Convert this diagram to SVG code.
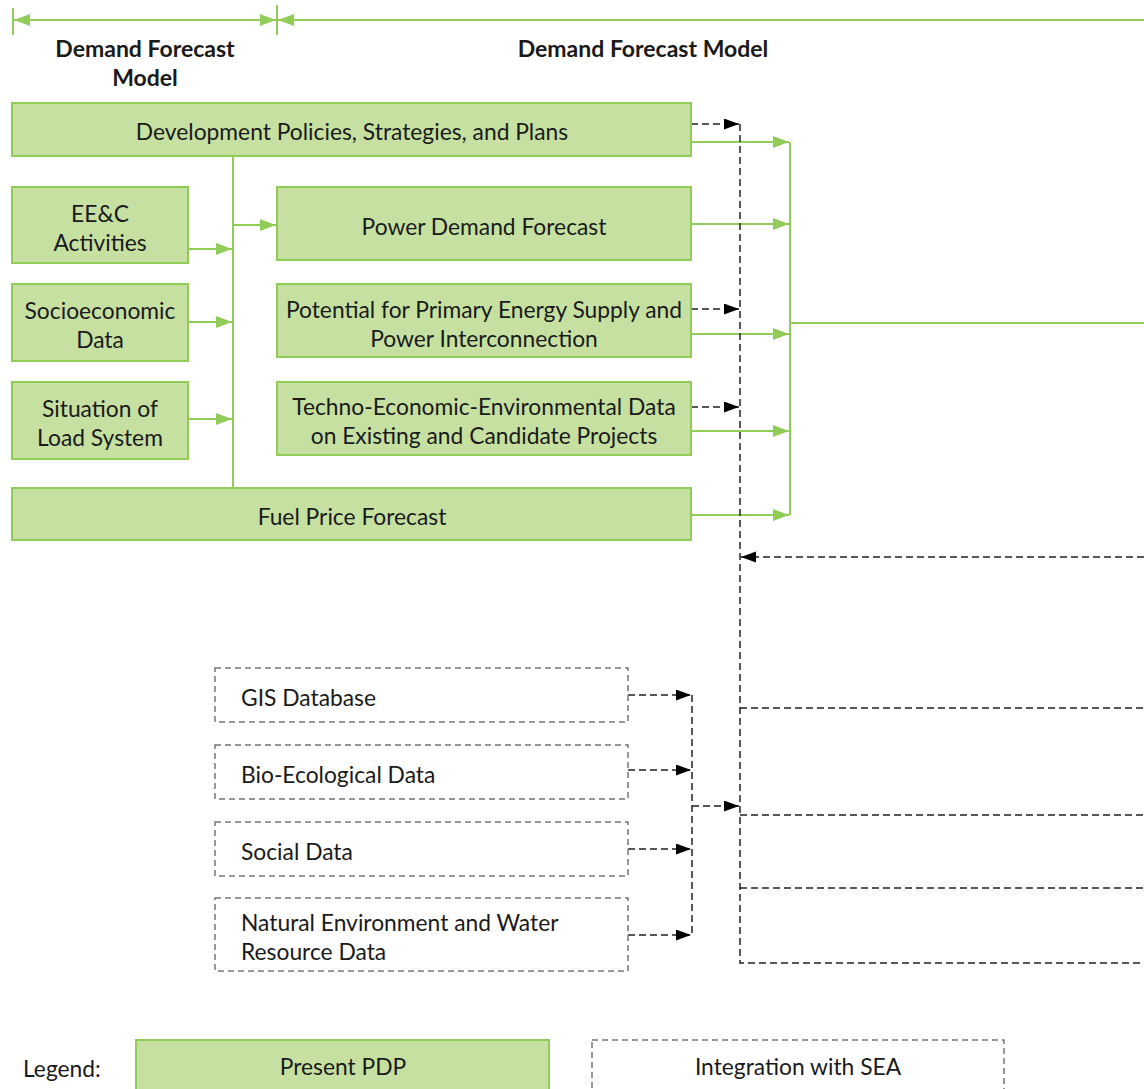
<svg xmlns="http://www.w3.org/2000/svg" width="1144" height="1089" viewBox="0 0 1144 1089">
<style>
text{font-family:Lato,"Noto Sans","Liberation Sans",sans-serif;font-size:22.8px;fill:#1a1a1a;dominant-baseline:central}
.hd{font-weight:bold;font-size:23px}
.g{fill:#c6e0a1;stroke:#92cc58;stroke-width:2}
.d{fill:#fff;stroke:#777;stroke-width:1.5;stroke-dasharray:6 4}
.gl{fill:none;stroke:#92cc58;stroke-width:2}
.dl{fill:none;stroke:#222;stroke-width:1.5;stroke-dasharray:7 4}
.m{text-anchor:middle}
</style>
<defs>
<marker id="ga" markerUnits="userSpaceOnUse" markerWidth="18" markerHeight="12" refX="16" refY="6" orient="auto"><path d="M0,0 L16,6 L0,12 z" fill="#92cc58"/></marker>
<marker id="ba" markerUnits="userSpaceOnUse" markerWidth="18" markerHeight="12" refX="15" refY="5.5" orient="auto"><path d="M0,0 L15,5.5 L0,11 z" fill="#000"/></marker>
</defs>
<g id="header">
<line x1="13" y1="8" x2="13" y2="35" class="gl"/>
<line x1="277" y1="5" x2="277" y2="35" class="gl"/>
<line x1="120" y1="20" x2="14" y2="20" class="gl" marker-end="url(#ga)"/>
<line x1="120" y1="20" x2="276" y2="20" class="gl" marker-end="url(#ga)"/>
<line x1="1144" y1="20" x2="278" y2="20" class="gl" marker-end="url(#ga)"/>
<text x="145" y="48" class="hd m">Demand Forecast</text>
<text x="145" y="77" class="hd m">Model</text>
<text x="643" y="48" class="hd m">Demand Forecast Model</text>
</g>
<g id="connectors">
<line x1="233" y1="156" x2="233" y2="488" class="gl"/>
<line x1="188" y1="249" x2="232" y2="249" class="gl" marker-end="url(#ga)"/>
<line x1="188" y1="322" x2="232" y2="322" class="gl" marker-end="url(#ga)"/>
<line x1="188" y1="419" x2="232" y2="419" class="gl" marker-end="url(#ga)"/>
<line x1="233" y1="225" x2="276" y2="225" class="gl" marker-end="url(#ga)"/>
<line x1="691" y1="142" x2="789" y2="142" class="gl" marker-end="url(#ga)"/>
<line x1="691" y1="224" x2="789" y2="224" class="gl" marker-end="url(#ga)"/>
<line x1="691" y1="334" x2="789" y2="334" class="gl" marker-end="url(#ga)"/>
<line x1="691" y1="431" x2="789" y2="431" class="gl" marker-end="url(#ga)"/>
<line x1="691" y1="515" x2="789" y2="515" class="gl" marker-end="url(#ga)"/>
<line x1="790" y1="142" x2="790" y2="515" class="gl"/>
<line x1="790" y1="323" x2="1144" y2="323" class="gl"/>
<line x1="691" y1="124" x2="739" y2="124" class="dl" marker-end="url(#ba)"/>
<line x1="691" y1="309" x2="739" y2="309" class="dl" marker-end="url(#ba)"/>
<line x1="691" y1="407" x2="739" y2="407" class="dl" marker-end="url(#ba)"/>
<line x1="1144" y1="557" x2="741" y2="557" class="dl" marker-end="url(#ba)"/>
<polyline points="740,124 740,963 1144,963" class="dl"/>
<line x1="740" y1="708" x2="1144" y2="708" class="dl"/>
<line x1="740" y1="815" x2="1144" y2="815" class="dl"/>
<line x1="740" y1="888" x2="1144" y2="888" class="dl"/>
<line x1="628" y1="695" x2="691" y2="695" class="dl" marker-end="url(#ba)"/>
<line x1="628" y1="770" x2="691" y2="770" class="dl" marker-end="url(#ba)"/>
<line x1="628" y1="849" x2="691" y2="849" class="dl" marker-end="url(#ba)"/>
<line x1="628" y1="935" x2="691" y2="935" class="dl" marker-end="url(#ba)"/>
<line x1="692" y1="695" x2="692" y2="935" class="dl"/>
<line x1="692" y1="806" x2="739" y2="806" class="dl" marker-end="url(#ba)"/>
</g>
<g id="dev"><rect x="12" y="103" width="679" height="53" class="g"/><text x="352" y="131" class="m">Development Policies, Strategies, and Plans</text></g>
<g id="eec"><rect x="12" y="187" width="176" height="76" class="g"/><text x="100" y="213" class="m">EE&amp;C</text><text x="100" y="242" class="m">Activities</text></g>
<g id="socio"><rect x="12" y="284" width="176" height="77" class="g"/><text x="100" y="310" class="m">Socioeconomic</text><text x="100" y="339" class="m">Data</text></g>
<g id="load"><rect x="12" y="382" width="176" height="77" class="g"/><text x="100" y="408" class="m">Situation of</text><text x="100" y="437" class="m">Load System</text></g>
<g id="power"><rect x="277" y="187" width="414" height="73" class="g"/><text x="484" y="226" class="m">Power Demand Forecast</text></g>
<g id="potential"><rect x="277" y="284" width="414" height="73" class="g"/><text x="484" y="309" class="m">Potential for Primary Energy Supply and</text><text x="484" y="338" class="m">Power Interconnection</text></g>
<g id="techno"><rect x="277" y="382" width="414" height="73" class="g"/><text x="484" y="406" class="m">Techno-Economic-Environmental Data</text><text x="484" y="435" class="m">on Existing and Candidate Projects</text></g>
<g id="fuel"><rect x="12" y="488" width="679" height="52" class="g"/><text x="352" y="516" class="m">Fuel Price Forecast</text></g>
<g id="gis"><rect x="215" y="668" width="413" height="54" class="d"/><text x="241" y="697">GIS Database</text></g>
<g id="bio"><rect x="215" y="745" width="413" height="54" class="d"/><text x="241" y="774">Bio-Ecological Data</text></g>
<g id="social"><rect x="215" y="822" width="413" height="54" class="d"/><text x="241" y="851">Social Data</text></g>
<g id="natural"><rect x="215" y="898" width="413" height="73" class="d"/><text x="241" y="922">Natural Environment and Water</text><text x="241" y="951">Resource Data</text></g>
<g id="legend">
<text x="23" y="1068">Legend:</text>
<rect x="136" y="1040" width="413" height="52" class="g"/><text x="343" y="1066" class="m">Present PDP</text>
<rect x="592" y="1040" width="412" height="52" class="d"/><text x="798" y="1066" class="m">Integration with SEA</text>
</g>
</svg>
